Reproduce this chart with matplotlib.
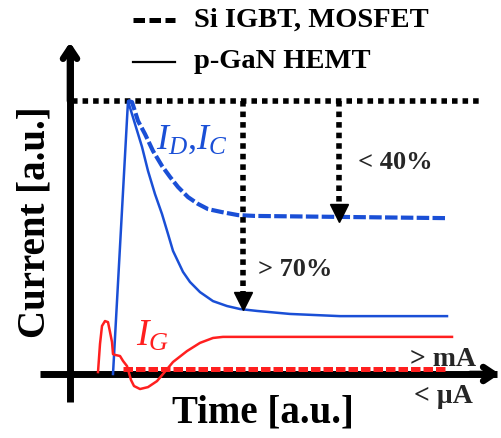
import matplotlib
matplotlib.use("Agg")
import matplotlib.pyplot as plt

plt.rcParams["font.family"] = ["Liberation Serif", "DejaVu Serif"]
plt.rcParams["mathtext.fontset"] = "custom"
plt.rcParams["mathtext.it"] = "Liberation Serif:italic"
plt.rcParams["mathtext.rm"] = "Liberation Serif"

# schematic data (time and current in arbitrary units)
id_gan_t = [1.075, 1.45, 1.625, 1.80, 1.95, 2.125, 2.30, 2.45, 2.575, 2.825,
            3.0, 3.25, 3.575, 3.925, 4.25, 4.675, 5.5, 6.75, 9.425]
id_gan_i = [0.0, 1.0, 0.916, 0.832, 0.744, 0.659, 0.586, 0.513, 0.451, 0.374,
            0.337, 0.300, 0.267, 0.249, 0.238, 0.231, 0.220, 0.212, 0.212]

id_si_t = [1.45, 1.55, 1.70, 1.875, 2.075, 2.30, 2.50, 2.70, 2.95, 3.20,
           3.45, 3.80, 4.20, 4.625, 9.375]
id_si_i = [1.0, 0.996, 0.927, 0.879, 0.817, 0.762, 0.722, 0.685, 0.648, 0.623,
           0.604, 0.593, 0.582, 0.579, 0.571]

ig_gan_t = [0.70, 0.75, 0.80, 0.875, 0.95, 1.0, 1.05, 1.075, 1.125, 1.25,
            1.325, 1.425, 1.475, 1.525, 1.6, 1.75, 1.95, 2.175, 2.325, 2.575,
            2.925, 3.25, 3.575, 3.825, 9.55]
ig_gan_i = [0.007, 0.110, 0.176, 0.194, 0.190, 0.154, 0.117, 0.073, 0.070,
            0.066, 0.048, 0.029, 0.004, -0.022, -0.044, -0.055, -0.048, -0.026,
            0.0, 0.044, 0.084, 0.114, 0.132, 0.136, 0.136]

ig_si_t = [1.325, 9.375]
ig_si_i = [0.018, 0.018]

peak_level = 1.0
drop_t = [4.325, 6.725]
drop_end = [0.238, 0.56]
drop_labels = ["> 70%", "< 40%"]

BLUE = "#1a4fd6"
RED = "#ff1f1f"
TXT = "#262626"

fig = plt.figure(figsize=(5.01, 4.39), dpi=100)
ax = fig.add_axes([0, 0, 1, 1])
ax.set_xlim(-1.75, 10.775)
ax.set_ylim(-0.2344, 1.3736)
ax.axis("off")

# axes arrows
ax.plot([0, 0], [-0.103, 1.19], color="black", lw=5, solid_capstyle="butt")
ax.plot([-0.75, 10.68], [0, 0], color="black", lw=5, solid_capstyle="butt")
ax.annotate("", xy=(0, 1.215), xytext=(0, 1.0),
            arrowprops=dict(arrowstyle="->,head_length=0.75,head_width=0.5",
                            lw=4.8, color="black", shrinkA=0, shrinkB=0))
ax.annotate("", xy=(10.74, 0), xytext=(10.0, 0),
            arrowprops=dict(arrowstyle="->,head_length=0.75,head_width=0.5",
                            lw=4.8, color="black", shrinkA=0, shrinkB=0))

# peak reference
ax.plot([0.05, 10.325], [peak_level, peak_level], color="black", lw=4,
        linestyle=(0, (1, 0.9)))

# drain / collector currents
ax.plot(id_gan_t, id_gan_i, color=BLUE, lw=1.8)
ax.plot(id_si_t, id_si_i, color=BLUE, lw=3.0, linestyle=(0, (3, 0.8)))

# gate currents
ax.plot(ig_si_t, ig_si_i, color=RED, lw=3.6, linestyle=(0, (1.9, 0.6)))
ax.plot(ig_gan_t, ig_gan_i, color=RED, lw=1.8)

# drop arrows
for t, end in zip(drop_t, drop_end):
    ax.plot([t, t], [peak_level, end + 0.05], color="black", lw=4,
            linestyle=(0, (1, 0.9)))
    ax.plot([t], [end + 0.03], marker="v", markersize=13, color="black",
            linestyle="none")

ax.text(4.7, 0.385, drop_labels[0], fontsize=19, fontweight="bold",
        color=TXT, ha="left", va="center")
ax.text(7.2, 0.78, drop_labels[1], fontsize=19, fontweight="bold",
        color=TXT, ha="left", va="center")

ax.text(2.15, 0.86, r"$I_D$,$I_C$", fontsize=26, color=BLUE,
        ha="left", va="center")
ax.text(1.65, 0.14, r"$I_G$", fontsize=27, color=RED, ha="left", va="center")

ax.text(8.5, 0.055, "> mA", fontsize=20, fontweight="bold", color=TXT,
        ha="left", va="center")
ax.text(8.6, -0.08, "< µA", fontsize=20, fontweight="bold", color=TXT,
        ha="left", va="center")

# legend drawn as lines + text
ax.plot([1.575, 2.625], [1.295, 1.295], color="black", lw=3.6,
        linestyle=(0, (2.3, 0.9)))
ax.plot([1.575, 2.625], [1.143, 1.143], color="black", lw=1.6)
ax.text(3.1, 1.300, "Si IGBT, MOSFET", fontsize=20.5, fontweight="bold",
        ha="left", va="center")
ax.text(3.1, 1.147, "p-GaN HEMT", fontsize=20.5, fontweight="bold",
        ha="left", va="center")

ax.text(-0.875, 0.56, "Current [a.u.]", fontsize=28, fontweight="bold",
        rotation=90, ha="center", va="center")
ax.text(4.825, -0.14, "Time [a.u.]", fontsize=28, fontweight="bold",
        ha="center", va="center")

fig.savefig("out.png", dpi=100)
